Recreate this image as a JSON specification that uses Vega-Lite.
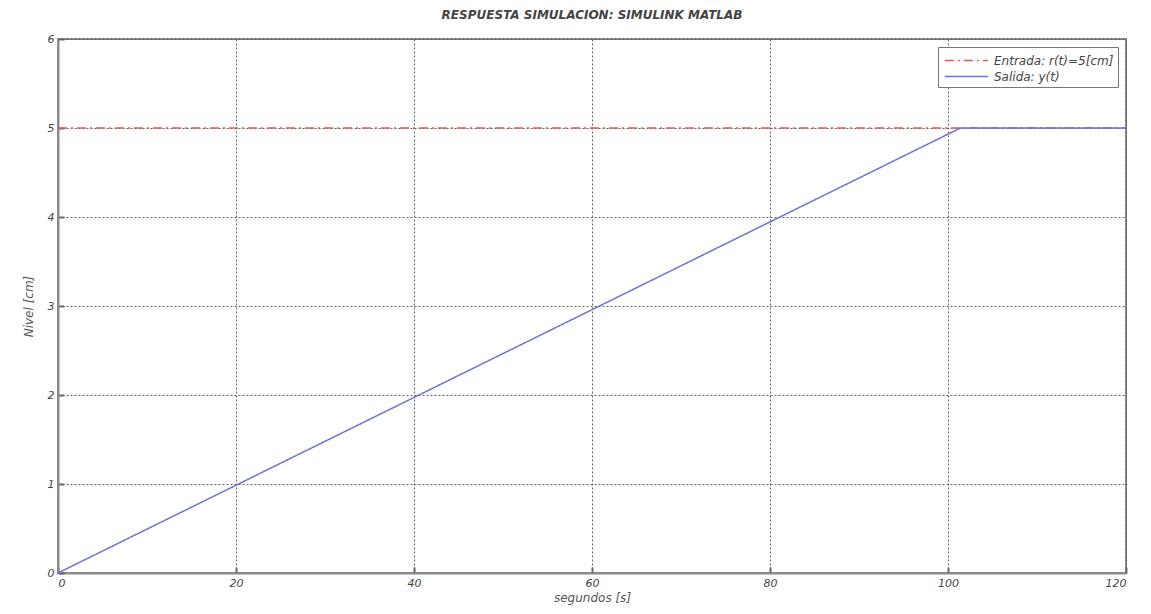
{
  "$schema": "https://vega.github.io/schema/vega-lite/v6.json",
  "width": 1068,
  "height": 534,
  "autosize": {"type": "none"},
  "padding": {"left": 58, "top": 39, "right": 25, "bottom": 41},
  "background": "white",
  "title": {
    "text": "RESPUESTA SIMULACION: SIMULINK MATLAB",
    "font": "DejaVu Sans",
    "fontSize": 12,
    "fontStyle": "italic",
    "fontWeight": "bold",
    "color": "#444444",
    "offset": 11,
    "anchor": "middle"
  },
  "config": {
    "view": {"stroke": "#8a8a8a", "strokeWidth": 2},
    "axis": {
      "labelFont": "DejaVu Sans",
      "labelFontStyle": "italic",
      "labelFontSize": 11,
      "labelColor": "#444444",
      "titleFont": "DejaVu Sans",
      "titleFontStyle": "italic",
      "titleFontWeight": "normal",
      "titleFontSize": 12,
      "titleColor": "#555555",
      "domainColor": "#8a8a8a",
      "domainWidth": 2,
      "tickColor": "#666666",
      "tickSize": -6,
      "tickWidth": 2,
      "gridColor": "#555555",
      "gridDash": [2, 2],
      "gridWidth": 1,
      "gridOpacity": 0.9
    }
  },
  "data": {
    "values": [
      {"t": 0, "nivel": 5, "serie": "Entrada: r(t)=5[cm]"},
      {"t": 120, "nivel": 5, "serie": "Entrada: r(t)=5[cm]"},
      {"t": 0, "nivel": 0, "serie": "Salida: y(t)"},
      {"t": 101.4, "nivel": 5, "serie": "Salida: y(t)"},
      {"t": 120, "nivel": 5, "serie": "Salida: y(t)"}
    ]
  },
  "mark": {"type": "line", "strokeWidth": 1.5},
  "encoding": {
    "x": {
      "field": "t",
      "type": "quantitative",
      "scale": {"domain": [0, 120], "nice": false, "zero": false},
      "axis": {"values": [0, 20, 40, 60, 80, 100, 120], "title": "segundos [s]", "labelPadding": 10, "titlePadding": 4}
    },
    "y": {
      "field": "nivel",
      "type": "quantitative",
      "scale": {"domain": [0, 6], "nice": false},
      "axis": {"values": [0, 1, 2, 3, 4, 5, 6], "title": "Nivel [cm]", "labelPadding": 10, "titlePadding": 12}
    },
    "color": {
      "field": "serie",
      "type": "nominal",
      "scale": {"domain": ["Entrada: r(t)=5[cm]", "Salida: y(t)"], "range": ["#e05c5c", "#6f73d2"]},
      "legend": {
        "title": null,
        "orient": "top-right",
        "offset": 8,
        "fillColor": "white",
        "strokeColor": "#777777",
        "padding": 4,
        "symbolType": "M -2.5 0 L 2.5 0",
        "symbolSize": 300,
        "symbolStrokeWidth": 1.5,
        "symbolOffset": 15,
        "labelOffset": 18,
        "labelFont": "DejaVu Sans",
        "labelFontStyle": "italic",
        "labelFontSize": 12,
        "labelColor": "#444444",
        "rowPadding": -3
      }
    },
    "strokeDash": {
      "field": "serie",
      "type": "nominal",
      "scale": {"domain": ["Entrada: r(t)=5[cm]", "Salida: y(t)"], "range": [[9, 4, 2, 4], [1, 0]]},
      "legend": null
    }
  }
}
